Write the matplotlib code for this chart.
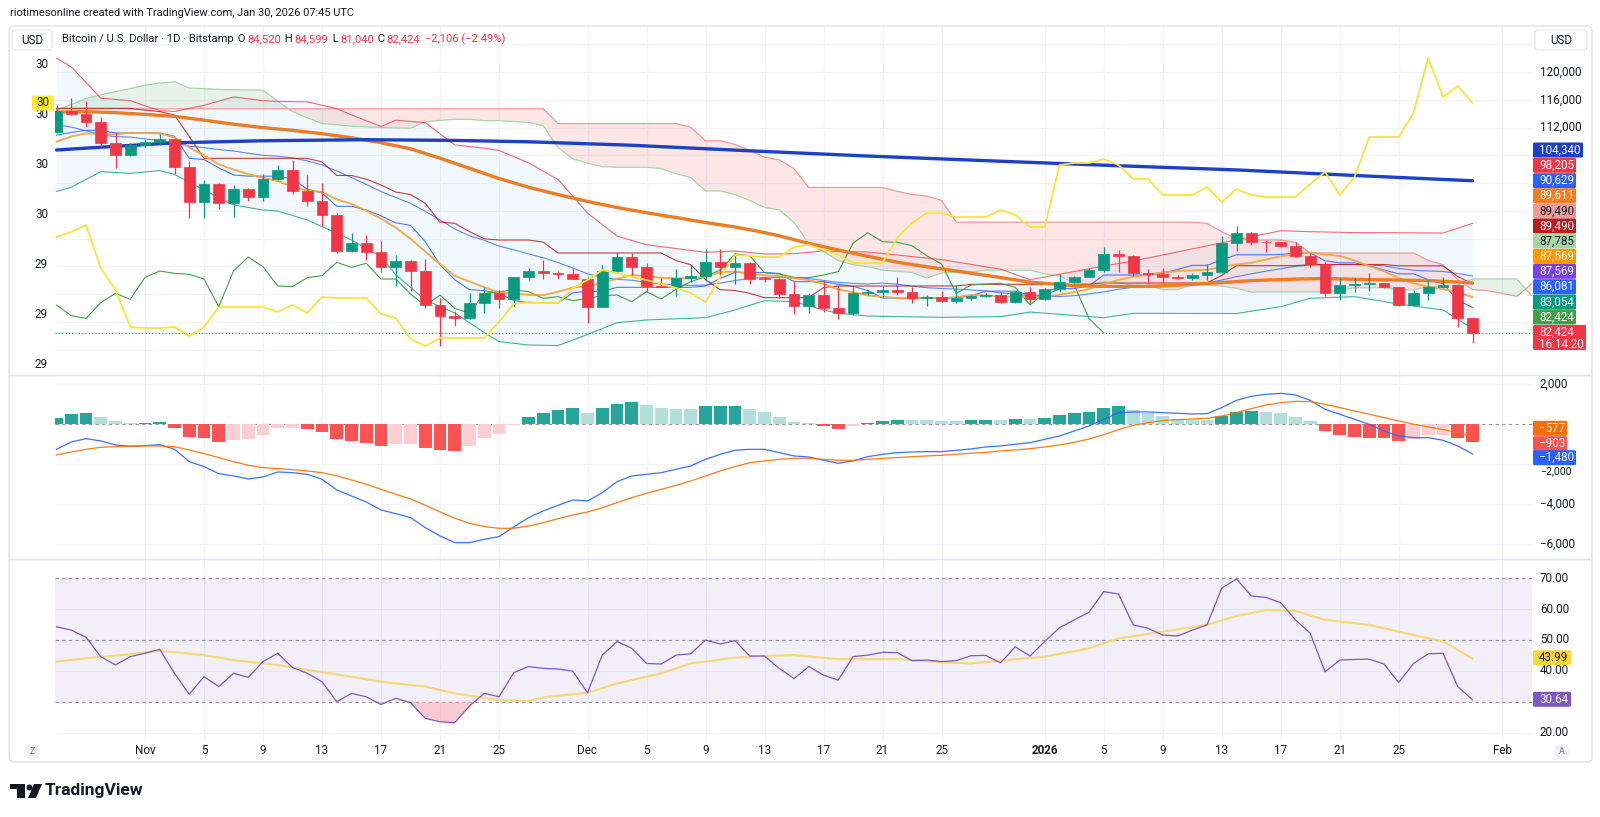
import matplotlib
matplotlib.use("Agg")
import matplotlib.pyplot as plt
import matplotlib.dates as mdates
import matplotlib.transforms as mtrans
from matplotlib.patches import Rectangle, FancyBboxPatch, Circle, Polygon
import numpy as np
import pandas as pd

plt.rcParams['font.family'] = ['Roboto', 'DejaVu Sans']

# ---------------------------------------------------------------- data
first_day = "2025-10-26"
dates = pd.date_range(first_day, periods=97, freq="D")
cloud_dates = pd.date_range(first_day, periods=101, freq="D")

opens = [111408, 114432, 113952, 112752, 109824, 108096, 109440, 109920, 110352, 106368,
         101328, 103824, 101184, 103152, 102048, 104592, 105888, 102864, 101424, 99456,
         94272, 95424, 94128, 91968, 92832, 91392, 86448, 84912, 84528, 86784,
         88128, 87264, 90432, 91344, 91008, 90864, 90192, 86208, 91344, 93360,
         91968, 89184, 89088, 90384, 90672, 92592, 91872, 92448, 90384, 90192,
         88032, 86352, 87888, 85968, 85248, 88128, 88368, 88608, 88368, 87408,
         87648, 87072, 87408, 87792, 87888, 86928, 88368, 87312, 88704, 89808,
         90528, 91488, 93792, 93552, 91104, 90912, 90432, 90384, 90768, 91248,
         95328, 96864, 95568, 95472, 94992, 93552, 92352, 88128, 89328, 89472,
         89568, 88992, 86448, 88224, 89088, 89280, 84520]
highs = [115248, 116208, 115872, 113472, 111408, 109728, 110200, 111072, 110450, 107184,
         104448, 104064, 103728, 103248, 105312, 106560, 107328, 105168, 103968, 99648,
         96768, 96528, 95712, 93648, 92900, 93024, 87408, 85632, 88128, 88992,
         88608, 90528, 91824, 92928, 91392, 91824, 90432, 92160, 94080, 93984,
         92544, 90384, 91632, 92208, 94464, 94464, 93888, 92688, 90528, 90384,
         89808, 88128, 90048, 89328, 89088, 88608, 89184, 90528, 89088, 87888,
         88512, 89328, 87888, 88128, 88300, 88512, 88992, 88848, 90912, 90624,
         91728, 94848, 94368, 93648, 91584, 91728, 90768, 91008, 92304, 96432,
         97872, 97008, 95808, 95568, 95568, 93888, 92688, 90384, 90288, 91104,
         89568, 89088, 88608, 90048, 90432, 89300, 84599]
lows = [111168, 113808, 112128, 109008, 106224, 107900, 109200, 109500, 105264, 98928,
        99024, 100272, 99168, 101472, 101472, 104448, 102432, 100704, 97872, 93984,
        94100, 92928, 91248, 89232, 88512, 85968, 80544, 83472, 84384, 85344,
        86064, 86352, 90048, 90192, 90192, 90144, 83904, 86112, 91008, 90768,
        88368, 88992, 87792, 89808, 89904, 90384, 89472, 89472, 89808, 87504,
        85152, 85344, 85392, 84384, 85008, 87888, 87648, 87888, 86688, 86352,
        86832, 86688, 87168, 87552, 86700, 86784, 86688, 87168, 88272, 89568,
        90432, 91248, 91248, 90624, 89472, 89568, 90192, 90048, 90048, 91008,
        94272, 95088, 94128, 94848, 93408, 91872, 87744, 87168, 88368, 88512,
        88848, 86304, 86304, 87168, 88848, 83232, 81040]
closes = [114432, 113952, 112752, 109824, 108096, 109440, 109920, 110352, 106368, 101328,
          103824, 101184, 103152, 102048, 104592, 105888, 102864, 101424, 99456, 94272,
          95424, 94128, 91968, 92832, 91392, 86448, 84912, 84528, 86784, 88128,
          87264, 90432, 91344, 91008, 90864, 90192, 86208, 91344, 93360, 91968,
          89184, 89088, 90384, 90672, 92592, 91872, 92448, 90192, 90192, 88032,
          86352, 87888, 85968, 85248, 88128, 88368, 88608, 88368, 87408, 87648,
          87072, 87408, 87792, 87888, 86928, 88368, 87312, 88704, 89808, 90528,
          91488, 93792, 93552, 91104, 90912, 90432, 90384, 90768, 91248, 95328,
          96864, 95568, 95472, 94992, 93552, 92352, 88128, 89328, 89472, 89568,
          88992, 86448, 88224, 89088, 89280, 84520, 82424]

sma200_dates = ["2025-10-26", "2025-10-30", "2025-11-03", "2025-11-09", "2025-11-16", "2025-11-22",
                "2025-11-27", "2025-12-04", "2025-12-12", "2025-12-20", "2025-12-29", "2026-01-06",
                "2026-01-14", "2026-01-22", "2026-01-30"]
sma200_vals = [108770, 109300, 109800, 110100, 110250, 110150, 109950, 109450, 108650, 107900,
               107150, 106500, 105900, 105100, 104340]

sma50_dates = ["2025-10-26", "2025-10-28", "2025-10-30", "2025-11-01", "2025-11-03", "2025-11-05",
               "2025-11-07", "2025-11-09", "2025-11-11", "2025-11-13", "2025-11-15", "2025-11-17",
               "2025-11-19", "2025-11-21", "2025-11-23", "2025-11-25", "2025-11-27", "2025-11-29",
               "2025-12-01", "2025-12-03", "2025-12-05", "2025-12-07", "2025-12-09", "2025-12-11",
               "2025-12-13", "2025-12-14", "2025-12-16", "2025-12-19", "2025-12-22", "2025-12-24",
               "2025-12-26", "2025-12-29", "2025-12-31", "2026-01-03", "2026-01-05", "2026-01-08",
               "2026-01-10", "2026-01-13", "2026-01-15", "2026-01-18", "2026-01-20", "2026-01-23",
               "2026-01-25", "2026-01-27", "2026-01-29", "2026-01-30"]
sma50_vals = [114224, 114296, 114144, 113899, 113607, 113068, 112483, 111988, 111603, 111114,
              110535, 109821, 108940, 107585, 106122, 104666, 103408, 102349, 101359, 100487,
              99730, 99046, 98325, 97689, 96875, 96404, 95321, 93895, 92607, 91955,
              91344, 90400, 89739, 89217, 89131, 89119, 89308, 89666, 89961, 90180,
              90261, 90095, 90038, 89964, 89750, 89611]

sma9 = [109967, 110717, 111167, 111078, 111034, 111238, 111218, 111146, 110571, 109115,
        107989, 106704, 105963, 105291, 104752, 104304, 103472, 102923, 102715, 101653,
        101013, 100011, 98891, 97584, 95973, 94149, 92315, 90656, 89824, 89013,
        88251, 88080, 87915, 87872, 88363, 88949, 89136, 89643, 90224, 90747,
        90608, 90357, 90288, 90267, 90533, 91163, 91285, 90933, 90736, 90608,
        90304, 90027, 89504, 88688, 88272, 87819, 87643, 87440, 87371, 87515,
        87424, 87584, 87867, 87840, 87680, 87653, 87536, 87680, 87920, 88304,
        88757, 89424, 90053, 90517, 90800, 91147, 91333, 91440, 91520, 91947,
        92288, 92512, 92997, 93451, 93797, 94016, 93723, 93509, 92859, 92048,
        91317, 90315, 89563, 89067, 88725, 88324, 87569]

bb_basis = [112400, 112070, 111540, 110950, 110690, 110630, 110370, 110120, 109790, 109320,
            109100, 108830, 108630, 108300, 108000, 107870, 107630, 107200, 106620, 105758,
            104808, 103817, 102778, 101928, 101093, 99943, 98693, 97402, 96422, 95762,
            94934, 94397, 93806, 93247, 92561, 91776, 90943, 90439, 90134, 90019,
            89707, 89455, 89376, 89268, 89328, 89599, 89976, 90259, 90430, 90425,
            90379, 90252, 89983, 89702, 89566, 89474, 89594, 89446, 89148, 88932,
            88826, 88742, 88613, 88474, 88190, 88015, 87758, 87684, 87665, 87790,
            88046, 88342, 88721, 89014, 89153, 89256, 89345, 89465, 89657, 90041,
            90530, 90938, 91322, 91678, 92009, 92208, 92249, 92280, 92263, 92215,
            92090, 91723, 91457, 91356, 91274, 90979, 90629]
band_dates = ["2025-10-26", "2025-10-27", "2025-10-29", "2025-10-31", "2025-11-02", "2025-11-03",
              "2025-11-05", "2025-11-07", "2025-11-09", "2025-11-10", "2025-11-12", "2025-11-14",
              "2025-11-15", "2025-11-17", "2025-11-18", "2025-11-20", "2025-11-22", "2025-11-24",
              "2025-11-25", "2025-11-27", "2025-11-29", "2025-12-01", "2025-12-03", "2025-12-05",
              "2025-12-09", "2025-12-11", "2025-12-13", "2025-12-15", "2025-12-17", "2025-12-18",
              "2025-12-20", "2025-12-25", "2025-12-29", "2025-12-31", "2026-01-05", "2026-01-07",
              "2026-01-14", "2026-01-17", "2026-01-19", "2026-01-22", "2026-01-25", "2026-01-28",
              "2026-01-30"]
bb_lower = [102800, 103400, 105650, 105400, 105800, 105260, 103000, 100850, 100130, 99980,
            98690, 96800, 95800, 93400, 90800, 87170, 85300, 82500, 81170, 80690,
            80600, 82200, 83900, 84290, 84620, 85730, 87070, 86930, 85730, 85250,
            84860, 84670, 84770, 85434, 84616, 85250, 85220, 86210, 87410, 87650,
            86590, 85730, 83054]
bb_upper = [122000, 120740, 116250, 115860, 114440, 114320, 115200, 116410, 115870, 115760,
            115710, 114716, 113816, 112156, 113056, 112716, 109504, 109024, 108698, 106922,
            104522, 99686, 96368, 95124, 94036, 94222, 93790, 93828, 94236, 94154,
            94088, 92982, 91610, 90082, 92068, 92778, 95840, 97146, 97006, 96876,
            96856, 96818, 98205]

conversion_line = [110900, 111300, 111600, 111600, 111216, 111216, 111216, 111216, 110736, 107568,
                   107400, 106200, 105168, 105000, 105000, 105000, 104616, 103128, 102600, 100656,
                   100656, 100128, 99288, 98280, 97920, 95568, 92256, 90096, 88656, 88536,
                   88128, 87096, 86784, 86784, 86736, 88200, 88416, 88416, 88992, 88992,
                   88992, 88992, 88992, 88992, 89184, 90288, 91128, 91128, 91128, 90984,
                   89808, 89808, 89808, 89424, 89136, 88536, 87456, 87456, 87456, 87456,
                   87456, 87456, 87768, 88440, 88440, 88440, 87840, 87840, 88800, 88800,
                   89208, 90768, 90768, 90768, 90768, 91008, 91560, 92160, 92160, 92952,
                   93672, 93672, 93672, 93720, 93960, 93960, 92808, 92520, 92520, 92088,
                   91488, 90936, 90936, 90096, 89496, 87168, 86081]
base_line = [114768, 114768, 114768, 114768, 114768, 114768, 114500, 114300, 113800, 110714,
             107568, 107568, 107568, 107568, 107568, 107568, 107568, 107568, 107040, 105096,
             105096, 104568, 103728, 102720, 102360, 101088, 98376, 98208, 97008, 95976,
             95808, 95808, 95808, 95497, 93936, 93936, 93936, 93936, 93936, 93936,
             93936, 93936, 92856, 92256, 90096, 88656, 88536, 88128, 87504, 87504,
             87504, 87504, 88968, 89184, 89184, 89184, 89184, 89184, 89184, 89184,
             89184, 89184, 89424, 89424, 89424, 89424, 89424, 89424, 89424, 89424,
             89424, 89616, 89616, 89616, 89616, 89616, 89616, 89616, 89616, 90720,
             92112, 92112, 92112, 92112, 92112, 92280, 92280, 92280, 92280, 92280,
             92280, 92088, 92088, 92088, 92088, 90552, 89490]
span_a = [114500, 115300, 116200, 116700, 117200, 117600, 118100, 118400, 118600, 117700,
          117600, 117500, 117450, 117420, 117400, 115800, 114300, 113400, 112600, 112400,
          112200, 112100, 112000, 111950, 111900,
          112834, 113034, 113184, 113184, 112992, 112992, 112858, 112758, 112268, 109141,
          107484, 106884, 106368, 106284, 106284, 106284, 106092, 105348, 104820, 102876,
          102876, 102348, 101508, 100500, 100140, 98328, 95316, 94152, 92832, 92256,
          91968, 91452, 91296, 91140, 90336, 91068, 91176, 91176, 91464, 91464,
          91464, 91464, 90924, 90624, 89640, 89472, 89832, 89628, 89316, 89244,
          88656, 88656, 89388, 89304, 89160, 88860, 88320, 88320, 88320, 88320,
          88320, 88320, 88596, 88932, 88932, 88932, 88632, 88632, 89112, 89112,
          89316, 90192, 90192, 90192, 90192, 87785]
span_b = [114700, 114700, 114700, 114700, 114700, 114700, 114700, 114700, 114700, 114700,
          114700, 114700, 114700, 114700, 114700, 114700, 114700, 114700, 114700, 114700,
          114700, 114700, 114700, 114700, 114700, 114700, 114700, 114700, 114700, 114700,
          114700, 114700, 114700, 114700, 112564, 112564, 112564, 112564, 112564, 112564,
          112564, 112564, 112564, 112036, 110092, 110092, 109564, 108724, 107716, 107356,
          106084, 103372, 103372, 103372, 103372, 103372, 103372, 102822, 102372, 102122,
          101522, 98376, 98376, 98376, 98376, 98376, 98376, 98376, 98376, 98376,
          98376, 98376, 98376, 98376, 98376, 98376, 98376, 98376, 98208, 97008,
          95976, 95808, 95808, 95808, 95497, 93936, 93936, 93936, 93936, 93936,
          93936, 93936, 93936, 92856, 92256, 90096, 88656, 88536, 88128, 87696,
          89490]

left_scale_line = [29.454, 29.464, 29.478, 29.392, 29.348, 29.274, 29.272, 29.272, 29.274, 29.256,
                   29.274, 29.314, 29.314, 29.314, 29.314, 29.304, 29.318, 29.302, 29.334, 29.332,
                   29.332, 29.332, 29.300, 29.292, 29.250, 29.236, 29.252, 29.252, 29.252, 29.252,
                   29.284, 29.320, 29.324, 29.322, 29.322, 29.352, 29.368, 29.388, 29.382, 29.374,
                   29.368, 29.360, 29.352, 29.342, 29.324, 29.374, 29.418, 29.416, 29.414, 29.414,
                   29.434, 29.438, 29.428, 29.418, 29.402, 29.402, 29.402, 29.452, 29.482, 29.502,
                   29.502, 29.494, 29.494, 29.494, 29.508, 29.498, 29.474, 29.474, 29.598, 29.602,
                   29.602, 29.610, 29.598, 29.570, 29.570, 29.538, 29.538, 29.538, 29.554, 29.524,
                   29.550, 29.538, 29.534, 29.534, 29.534, 29.560, 29.584, 29.538, 29.574, 29.654,
                   29.654, 29.654, 29.702, 29.812, 29.734, 29.756, 29.722]

macd_line = [-1250, -883, -717, -833, -1033, -1100, -1067, -1017, -1250, -1867,
             -2117, -2467, -2583, -2733, -2633, -2383, -2417, -2500, -2750, -3283,
             -3583, -3883, -4283, -4467, -4667, -5167, -5583, -5917, -5917, -5750,
             -5617, -5133, -4667, -4333, -4050, -3783, -3833, -3417, -2867, -2583,
             -2500, -2417, -2250, -2083, -1750, -1500, -1300, -1250, -1250, -1417,
             -1583, -1633, -1800, -1950, -1833, -1617, -1500, -1417, -1383, -1367,
             -1367, -1300, -1233, -1133, -1083, -1000, -917, -750, -583, -333,
             -83, 250, 583, 617, 617, 583, 550, 517, 533, 833,
             1200, 1400, 1500, 1550, 1467, 1200, 750, 500, 250, 0,
             -333, -583, -667, -667, -800, -1083, -1480]
macd_signal = [-1533, -1383, -1250, -1150, -1117, -1100, -1083, -1083, -1117, -1283,
               -1467, -1667, -1867, -2050, -2167, -2217, -2267, -2333, -2417, -2583,
               -2783, -3000, -3250, -3500, -3733, -4050, -4383, -4700, -4950, -5117,
               -5200, -5200, -5083, -4917, -4717, -4533, -4383, -4167, -3917, -3667,
               -3450, -3250, -3050, -2833, -2583, -2333, -2117, -1917, -1833, -1750,
               -1700, -1700, -1750, -1800, -1800, -1750, -1700, -1667, -1617, -1583,
               -1550, -1500, -1450, -1400, -1333, -1283, -1217, -1133, -1033, -900,
               -733, -517, -267, -50, 83, 183, 233, 267, 300, 417,
               583, 783, 967, 1083, 1150, 1133, 1000, 833, 667, 500,
               333, 167, 0, -133, -267, -417, -577]
macd_hist = [333, 500, 550, 367, 150, 50, 60, 100, -167, -617,
             -700, -900, -783, -750, -550, -200, -190, -250, -383, -750,
             -833, -950, -1067, -967, -960, -1167, -1300, -1310, -1067, -700,
             -500, -30, 350, 583, 717, 800, 583, 817, 1017, 1117,
             950, 800, 790, 750, 900, 905, 910, 750, 633, 383,
             133, 83, -83, -217, -83, 50, 167, 233, 230, 225,
             183, 180, 217, 220, 215, 283, 267, 317, 467, 550,
             633, 817, 900, 700, 550, 400, 250, 217, 200, 417,
             633, 683, 633, 550, 367, 150, -333, -533, -617, -667,
             -680, -833, -717, -550, -545, -700, -903]

rsi = [54.3, 53.2, 50.9, 44.6, 41.9, 44.6, 45.7, 47.0, 39.2, 32.4,
       38.1, 34.9, 39.2, 37.9, 43.0, 45.7, 41.1, 39.2, 36.5, 30.0,
       32.7, 31.6, 29.1, 31.1, 29.7, 24.6, 23.5, 23.2, 28.6, 32.7,
       31.6, 39.4, 41.4, 40.8, 40.6, 39.9, 32.9, 45.1, 49.5, 47.3,
       42.4, 42.2, 45.1, 45.5, 50.0, 48.7, 49.8, 44.8, 44.8, 40.8,
       37.5, 41.4, 38.6, 37.0, 44.6, 45.1, 46.0, 45.9, 43.3, 43.5,
       43.0, 43.3, 44.9, 45.0, 42.6, 47.8, 44.8, 49.5, 54.0, 56.5,
       59.0, 65.7, 64.9, 54.9, 53.8, 51.6, 51.3, 53.2, 54.9, 66.8,
       69.8, 64.3, 63.8, 62.1, 56.5, 52.2, 39.7, 43.5, 43.7, 43.8,
       42.2, 36.2, 42.4, 45.5, 45.7, 34.9, 30.64]
rsi_ma_dates = ["2025-10-26", "2025-10-28", "2025-10-31", "2025-11-02", "2025-11-05", "2025-11-07",
                "2025-11-10", "2025-11-12", "2025-11-15", "2025-11-17", "2025-11-20", "2025-11-22",
                "2025-11-25", "2025-11-27", "2025-11-28", "2025-12-01", "2025-12-03", "2025-12-06",
                "2025-12-08", "2025-12-11", "2025-12-13", "2025-12-15", "2025-12-18", "2025-12-20",
                "2025-12-22", "2025-12-25", "2025-12-27", "2025-12-29", "2026-01-01", "2026-01-04",
                "2026-01-06", "2026-01-09", "2026-01-12", "2026-01-14", "2026-01-16", "2026-01-18",
                "2026-01-20", "2026-01-23", "2026-01-25", "2026-01-28", "2026-01-30"]
rsi_ma_vals = [43.0, 44.1, 45.4, 46.5, 45.1, 43.5, 41.9, 40.3, 38.1, 36.5,
               34.9, 32.7, 30.5, 30.2, 31.4, 32.9, 35.9, 39.2, 42.4, 44.3,
               44.8, 45.1, 43.8, 43.8, 43.8, 42.8, 42.4, 43.3, 44.6, 47.3,
               50.5, 52.7, 54.9, 57.8, 59.7, 59.5, 56.5, 54.9, 52.7, 49.5, 43.99]

lag_shift = 25
tick_dates = ["2025-11-01", "2025-11-05", "2025-11-09", "2025-11-13", "2025-11-17", "2025-11-21",
              "2025-11-25", "2025-12-01", "2025-12-05", "2025-12-09", "2025-12-13", "2025-12-17",
              "2025-12-21", "2025-12-25", "2026-01-01", "2026-01-05", "2026-01-09", "2026-01-13",
              "2026-01-17", "2026-01-21", "2026-01-25", "2026-02-01"]
tick_labels = ["Nov", "5", "9", "13", "17", "21", "25", "Dec", "5", "9", "13", "17", "21", "25",
               "2026", "5", "9", "13", "17", "21", "25", "Feb"]

# ---------------------------------------------------------------- layout
W, H = 1600, 817
fig = plt.figure(figsize=(W / 100, H / 100), dpi=100)
fig.patch.set_facecolor("white")
ID = mtrans.IdentityTransform()

UP, DN = "#089981", "#F23645"
TXT = "#131722"
GRID = "#F0F3FA"

PL, PR = 55, 1532          # plot area left/right (px)
MAIN_T, MAIN_B = 26, 375
MACD_T, MACD_B = 375, 559
RSI_T, RSI_B = 559, 741

nov1 = mdates.date2num(pd.Timestamp("2025-11-01"))
px_day = 14.75
XMIN = nov1 - (145 - PL) / px_day
XMAX = nov1 + (PR - 145) / px_day

def add_pane(top, bottom):
    a = fig.add_axes([PL / W, 1 - bottom / H, (PR - PL) / W, (bottom - top) / H])
    a.set_xlim(XMIN, XMAX)
    for s in a.spines.values():
        s.set_visible(False)
    a.set_xticks([])
    a.set_yticks([])
    a.set_facecolor("none")
    return a

ax = add_pane(MAIN_T, MAIN_B)
axm = add_pane(MACD_T, MACD_B)
axr = add_pane(RSI_T, RSI_B)

ax.set_ylim(120000 - (MAIN_B - 72) * 144, 120000 + (72 - MAIN_T) * 144)
axm.set_ylim(-(MACD_B - 424.3) * 50, (424.3 - MACD_T) * 50)
axr.set_ylim(70 - (RSI_B - 578.3) / 3.085, 70 + (578.3 - RSI_T) / 3.085)

def px_box(x0, y0, x1, y1, fc, ec="none", lw=0.0, r=0.0, z=10):
    if r > 0:
        p = FancyBboxPatch((x0, H - y1), x1 - x0, y1 - y0,
                           boxstyle=f"round,pad=0,rounding_size={r}",
                           fc=fc, ec=ec, lw=lw, transform=ID, zorder=z)
    else:
        p = Rectangle((x0, H - y1), x1 - x0, y1 - y0, fc=fc, ec=ec, lw=lw,
                      transform=ID, zorder=z)
    fig.add_artist(p)
    return p

def px_text(x, y, s, **kw):
    return fig.text(x / W, 1 - y / H, s, **kw)

# ---------------------------------------------------------------- grids
tick_num = mdates.date2num(pd.to_datetime(tick_dates))
for a in (ax, axm, axr):
    for t in tick_num:
        a.axvline(t, color=GRID, lw=0.9, zorder=0)
for p in range(76000, 128001, 4000):
    ax.axhline(p, color=GRID, lw=0.9, zorder=0)
for m in (-6000, -4000, -2000, 2000):
    axm.axhline(m, color=GRID, lw=0.9, zorder=0)
for r_ in (60, 40, 20):
    axr.axhline(r_, color=GRID, lw=0.9, zorder=0)

d = mdates.date2num(dates)
dcl = mdates.date2num(cloud_dates)
o = np.array(opens, float); c = np.array(closes, float)
h = np.array(highs, float); l = np.array(lows, float)

# ---------------------------------------------------------------- main pane
bd = mdates.date2num(pd.to_datetime(band_dates))
ax.fill_between(bd, bb_lower, bb_upper, color="#2196F3", alpha=0.055, lw=0, zorder=1)
A = np.array(span_a, float); B = np.array(span_b, float)
ax.fill_between(dcl, A, B, where=A >= B, interpolate=True, color="#43A047", alpha=0.13, lw=0, zorder=1)
ax.fill_between(dcl, A, B, where=A < B, interpolate=True, color="#F44336", alpha=0.13, lw=0, zorder=1)
ax.plot(dcl, A, color="#A5D6A7", lw=0.9, zorder=2)
ax.plot(dcl, B, color="#EF9A9A", lw=0.9, zorder=2)

ax.plot(bd, bb_upper, color="#F23645", lw=0.8, alpha=0.75, zorder=3)
ax.plot(bd, bb_lower, color="#089981", lw=0.8, alpha=0.75, zorder=3)
ax.plot(d, bb_basis, color="#2962FF", lw=0.8, alpha=0.75, zorder=3)
ax.plot(d, conversion_line, color="#2962FF", lw=0.8, alpha=0.85, zorder=3)
ax.plot(d, base_line, color="#B71C1C", lw=0.8, alpha=0.85, zorder=3)
ax.plot(d[:len(closes) - lag_shift], closes[lag_shift:], color="#43A047", lw=0.8, zorder=3)
ax.plot(d, sma9, color="#F5A33C", lw=1.4, alpha=0.9, zorder=3)
ax.plot(mdates.date2num(pd.to_datetime(sma50_dates)), sma50_vals, color="#EB7D26", lw=2.4,
        solid_capstyle="round", zorder=4)
ax.plot(mdates.date2num(pd.to_datetime(sma200_dates)), sma200_vals, color="#1E40C4", lw=2.4,
        solid_capstyle="round", zorder=4)

col = np.where(c >= o, UP, DN)
ax.vlines(d, l, h, colors=col, lw=0.9, zorder=5)
ax.bar(d, np.abs(c - o), bottom=np.minimum(o, c), width=0.72, color=col, edgecolor=col,
       linewidth=0.5, zorder=6)
ax.axhline(closes[-1], color=DN, lw=0.8, ls=(0, (1, 2)), zorder=4)

# left-scale indicator (yellow)
axl = fig.add_axes(ax.get_position())
axl.set_xlim(XMIN, XMAX)
axl.set_ylim(29.8 - (MAIN_B - 64) / 500, 29.8 + (64 - MAIN_T) / 500)
axl.axis("off")
axl.plot(d, left_scale_line, color="#FBE33B", lw=1.3, zorder=3)

# ---------------------------------------------------------------- MACD pane
hist = np.array(macd_hist, float)
prev = np.concatenate([[hist[0] - 1], hist[:-1]])
hcol = []
for v, pv in zip(hist, prev):
    if v >= 0:
        hcol.append("#26A69A" if v >= pv else "#B2DFDB")
    else:
        hcol.append("#FFCDD2" if v > pv else "#FF5252")
axm.axhline(0, color="#9598A1", lw=0.8, ls=(0, (3, 3)), zorder=1)
axm.bar(d, hist, width=0.86, color=hcol, zorder=2)
axm.plot(d, macd_line, color="#2962FF", lw=0.9, alpha=0.9, zorder=3)
axm.plot(d, macd_signal, color="#FF6D00", lw=0.9, alpha=0.9, zorder=3)

# ---------------------------------------------------------------- RSI pane
axr.axhspan(30, 70, color="#7E57C2", alpha=0.09, lw=0, zorder=0)
for lev in (70, 50, 30):
    axr.axhline(lev, color="#787B86", lw=0.8, ls=(0, (3, 3)), alpha=0.8, zorder=1)
rs = np.array(rsi, float)
axr.fill_between(d, rs, 30, where=rs < 30, interpolate=True, color="#F7A7B3", alpha=0.6, lw=0, zorder=1)
axr.plot(mdates.date2num(pd.to_datetime(rsi_ma_dates)), rsi_ma_vals, color="#F7D46A", lw=1.6,
         alpha=0.85, zorder=2)
axr.plot(d, rsi, color="#7E57C2", lw=0.9, zorder=3)

# ---------------------------------------------------------------- frame & separators
px_box(9, 26, 1592, 762, "none", ec="#E0E3EB", lw=1.0, r=5, z=1)
for yy in (MAIN_B, MACD_B):
    fig.add_artist(plt.Line2D([9 / W, 1592 / W], [1 - yy / H, 1 - yy / H], color="#E0E3EB",
                              lw=1.0, transform=fig.transFigure, zorder=2))

# ---------------------------------------------------------------- axis labels
FS = 8.4
bt_main = mtrans.blended_transform_factory(fig.transFigure, ax.transData)
for v in (120000, 116000, 112000):
    ax.text(1540 / W, v, f"{v:,}", transform=bt_main, fontsize=FS, color=TXT, va="center", ha="left")
bt_macd = mtrans.blended_transform_factory(fig.transFigure, axm.transData)
for v, s in ((2000, "2,000"), (-4000, "\u22124,000"), (-6000, "\u22126,000")):
    axm.text(1540 / W, v, s, transform=bt_macd, fontsize=FS, color=TXT, va="center", ha="left")
# -2,000 sits just below the MACD-line badge that covers its grid level
px_text(1540, 471.5, "\u22122,000", fontsize=7.6, color=TXT, va="center", ha="left")
bt_rsi = mtrans.blended_transform_factory(fig.transFigure, axr.transData)
for v in (70, 60, 50, 40, 20):
    axr.text(1540 / W, v, f"{v:.2f}", transform=bt_rsi, fontsize=FS, color=TXT, va="center", ha="left")
bt_left = mtrans.blended_transform_factory(fig.transFigure, axl.transData)
for v, s in ((29.8, "30"), (29.7, "30"), (29.6, "30"), (29.5, "30"), (29.4, "29"), (29.3, "29"), (29.2, "29")):
    axl.text(48 / W, v, s, transform=bt_left, fontsize=FS, color=TXT, va="center", ha="right")

bt_time = mtrans.blended_transform_factory(axr.transData, fig.transFigure)
for t, s in zip(tick_num, tick_labels):
    axr.text(t, 1 - 751 / H, s, transform=bt_time, fontsize=FS, color=TXT, va="center", ha="center",
             fontweight="bold" if s == "2026" else "normal", clip_on=False)

# ---------------------------------------------------------------- badges
def badge(yc, text, bg, fg="white", x0=1533, x1=1576, hgt=15.0, ha="left"):
    px_box(x0, yc - hgt / 2, x1, yc + hgt / 2, bg, r=1.5, z=20)
    tx = x0 + 6 if ha == "left" else (x0 + x1) / 2
    px_text(tx, yc, text, fontsize=FS, color=fg, va="center", ha=ha, zorder=21)

badge(150.0, "104,340", "#1E40C4", x1=1583)
badge(165.3, "98,205", "#F23645")
badge(180.7, "90,629", "#2962FF")
badge(195.7, "89,611", "#F57C1F")
badge(211.0, "89,490", "#EF9A9A", fg=TXT)
badge(226.0, "89,490", "#B71C1C")
badge(241.0, "87,785", "#A5D6A7", fg=TXT)
badge(256.3, "87,569", "#FF9800")
badge(271.3, "87,569", "#7B3FF2")
badge(286.7, "86,081", "#2962FF")
badge(302.0, "83,054", "#089981")
badge(317.0, "82,424", "#43A047")
px_box(1533, 325, 1586, 350, DN, r=1.5, z=20)
px_text(1539, 332.5, f"{closes[-1]:,}", fontsize=FS, color="white", va="center", ha="left", zorder=21)
px_text(1539, 344.0, "16:14:20", fontsize=FS, color="white", va="center", ha="left", zorder=21)

badge(428.3, f"\u2212{abs(macd_signal[-1]):,}", "#FF6D00", x1=1567)
badge(443.7, f"\u2212{abs(macd_hist[-1]):,}", "#FF5252", x1=1567)
badge(457.7, f"\u2212{abs(macd_line[-1]):,}", "#2962FF", x1=1576)
badge(657.7, f"{rsi_ma_vals[-1]:.2f}", "#FDD835", fg=TXT, x1=1571)
badge(699.3, f"{rsi[-1]:.2f}", "#7E57C2", x1=1571)
badge(103.0, "30", "#FFEB3B", fg=TXT, x0=32, x1=54, ha="center")

# ---------------------------------------------------------------- header / misc text
px_text(10, 13, "riotimesonline created with TradingView.com, Jan 30, 2026 07:45 UTC",
        fontsize=7.9, color=TXT, va="center", ha="left")
px_box(12, 30, 52, 50, "white", ec="#E0E3EB", lw=0.8, r=3, z=15)
px_text(32, 40, "USD", fontsize=FS, color=TXT, va="center", ha="center", zorder=16)
px_box(1535, 30, 1587, 50, "white", ec="#E0E3EB", lw=0.8, r=3, z=15)
px_text(1561, 40, "USD", fontsize=FS, color=TXT, va="center", ha="center", zorder=16)

renderer = fig.canvas.get_renderer()
parts = [("Bitcoin / U.S. Dollar \u00b7 1D \u00b7 Bitstamp", TXT),
         (" O", TXT), (f"{opens[-1]:,}", DN),
         (" H", TXT), (f"{highs[-1]:,}", DN),
         (" L", TXT), (f"{lows[-1]:,}", DN),
         (" C", TXT), (f"{closes[-1]:,}", DN),
         (" \u22122,106 (\u22122.49%)", DN)]
xcur = 62
for s, cc in parts:
    t = px_text(xcur, 39, s, fontsize=8.1, color=cc, va="center", ha="left", zorder=16)
    xcur += t.get_window_extent(renderer=renderer).width + 1.5

for cx, s in ((32, "Z"), (1562, "A")):
    fig.add_artist(Circle((cx, H - 752), 8, transform=ID, fc="#F0F3FA", ec="none", zorder=5))
    px_text(cx, 752, s, fontsize=6.5, color="#787B86", va="center", ha="center", zorder=6)

# TradingView logo
px_box(10, 784, 25, 789, "#131722", z=5)
px_box(17, 784, 25, 798, "#131722", z=5)
fig.add_artist(Circle((29.5, H - 787.5), 3.0, transform=ID, fc="#131722", ec="none", zorder=5))
fig.add_artist(Polygon([(34, H - 784), (42, H - 784), (36, H - 798), (28, H - 798)], closed=True,
                       transform=ID, fc="#131722", ec="none", zorder=5))
px_text(45, 791, "TradingView", fontsize=12.5, color="#131722", va="center", ha="left",
        fontweight="bold")

fig.savefig("out.png", dpi=100)
